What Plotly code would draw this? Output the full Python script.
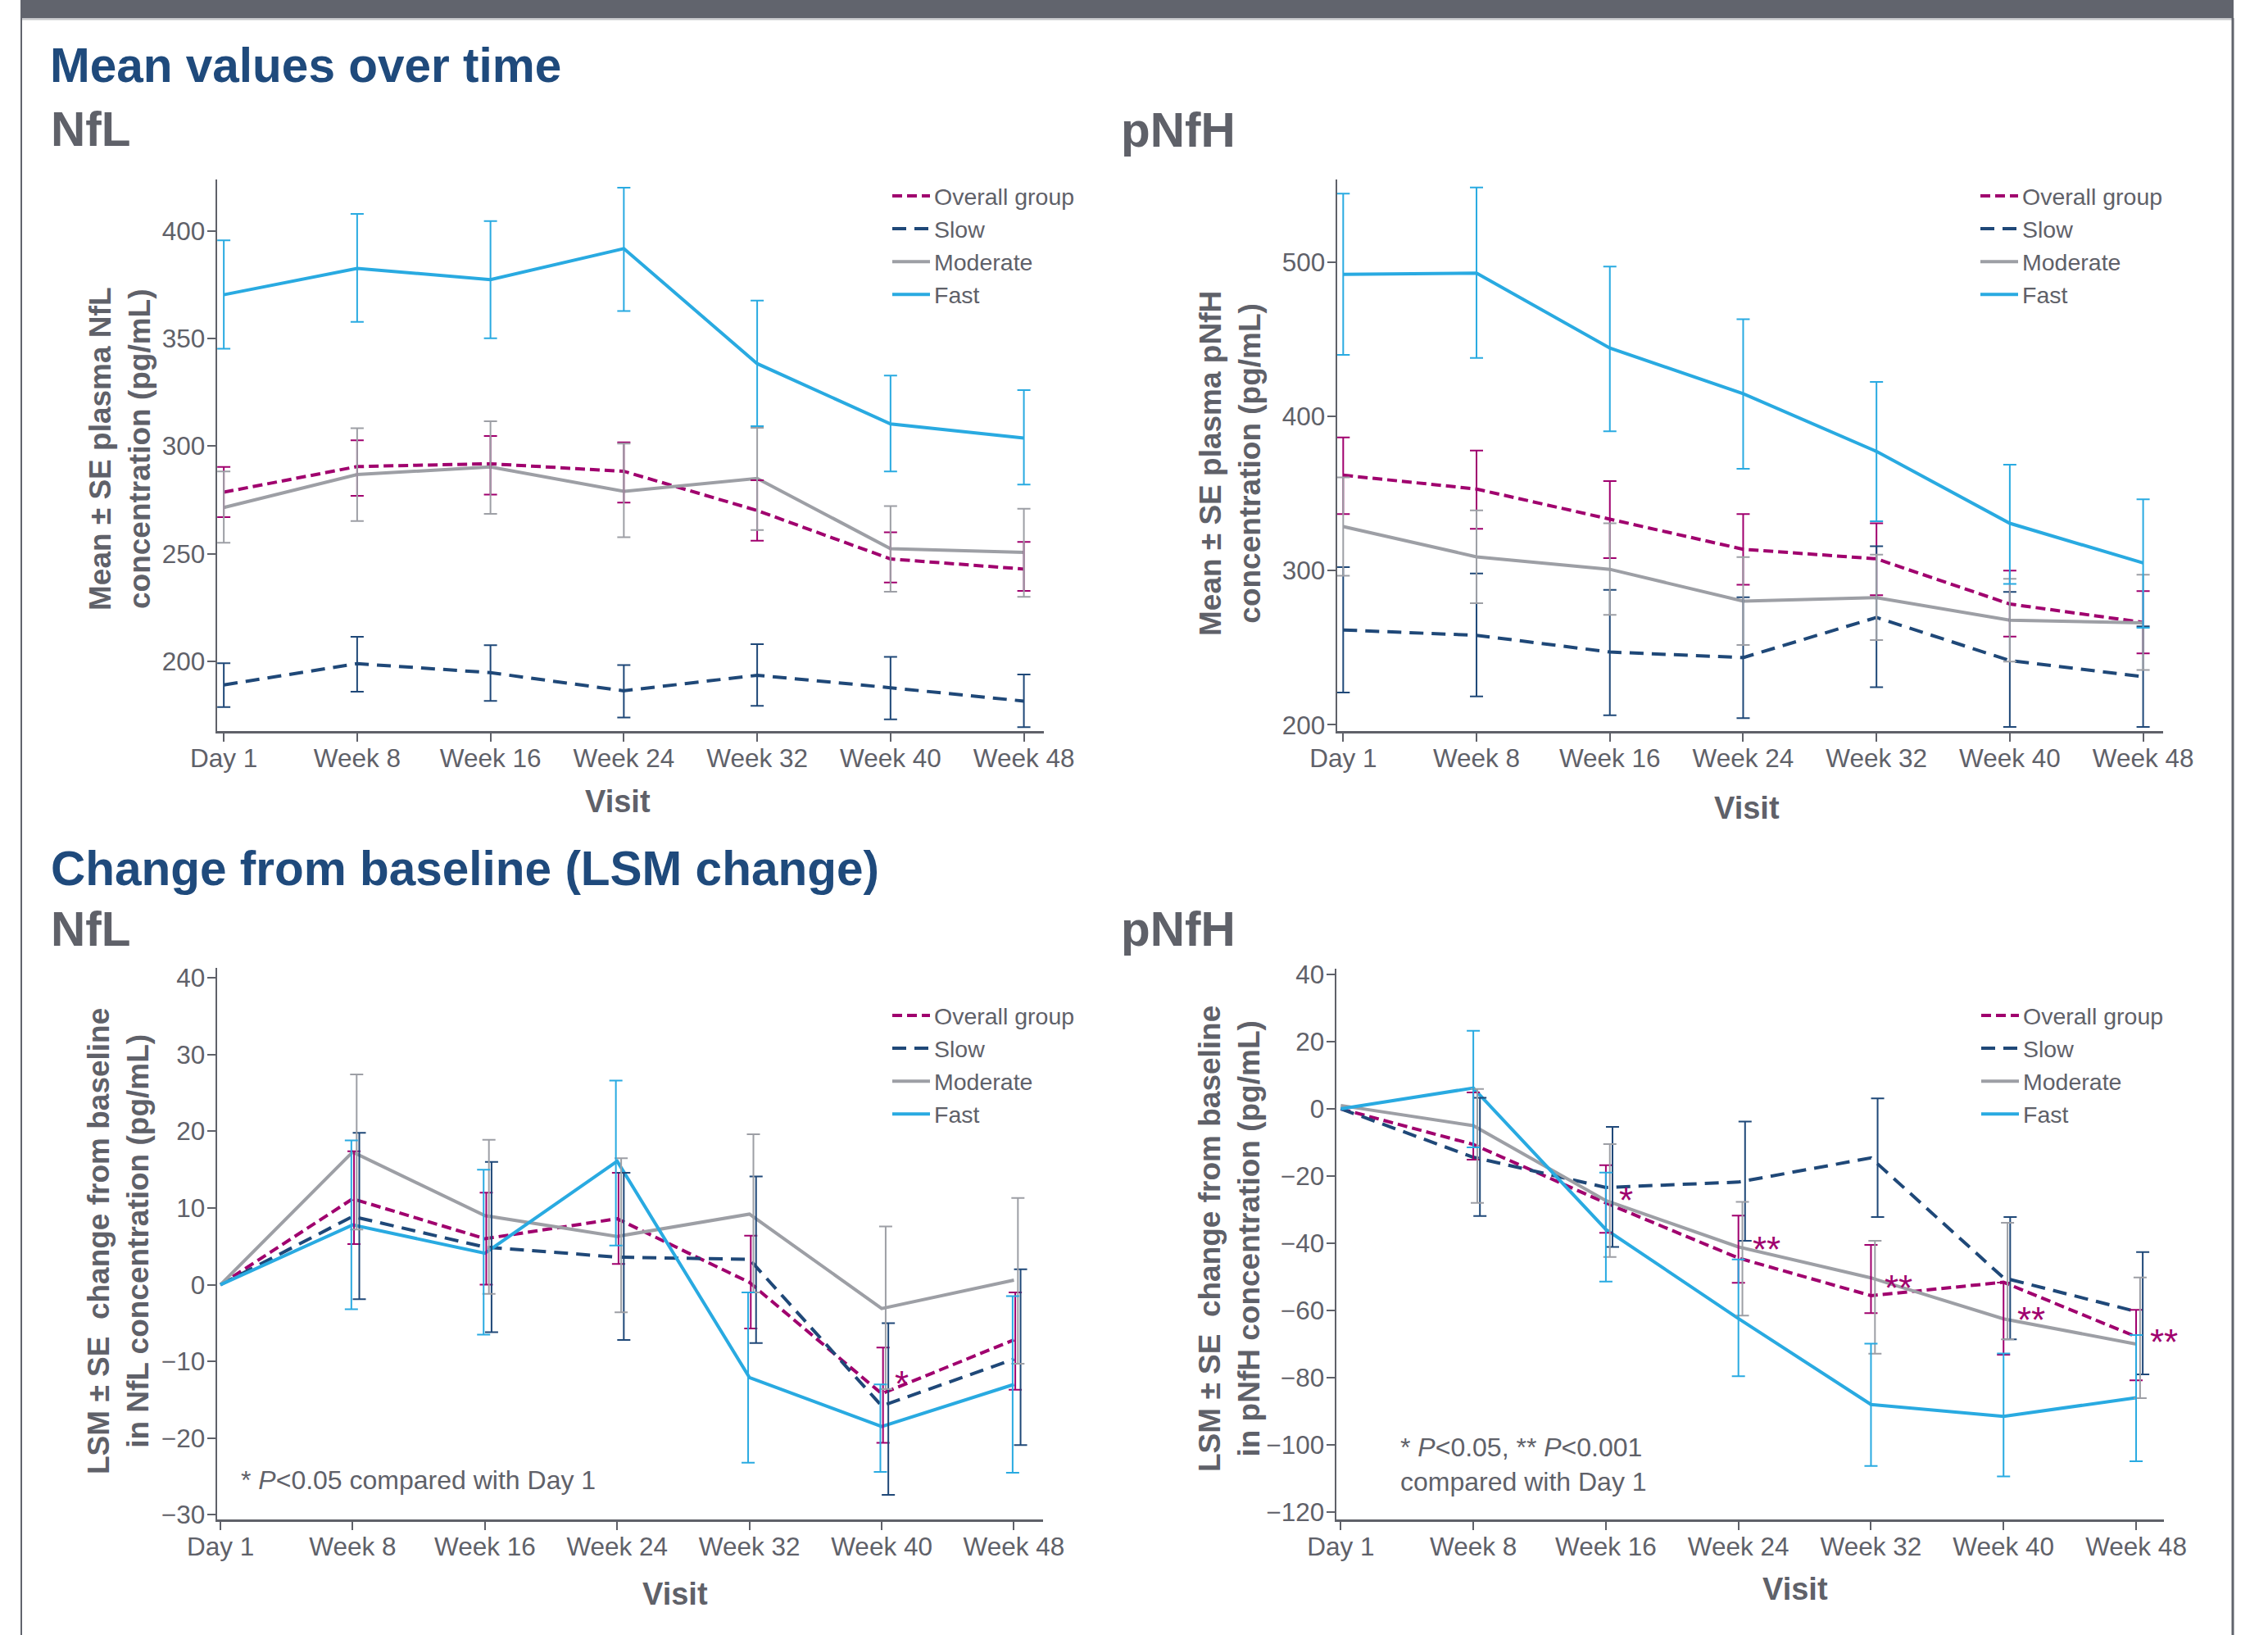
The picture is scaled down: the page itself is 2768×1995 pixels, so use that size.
import plotly.graph_objects as go

W, H = 2768, 1995
N = None

visits = ["Day 1", "Week 8", "Week 16", "Week 24", "Week 32", "Week 40", "Week 48"]
groups = ["Overall group", "Slow", "Moderate", "Fast"]

# ---- Panel A: NfL mean values (pg/mL) ----
nfl_mean_overall = [278.6, 290.5, 291.8, 288.3, 270.1, 247.6, 242.9]
nfl_mean_overall_lo = [267.0, 276.9, 277.5, 273.8, 256.1, 236.7, 232.8]
nfl_mean_overall_hi = [290.3, 302.7, 304.7, 301.7, 284.1, 260.0, 255.5]
nfl_mean_slow = [189.1, 199.0, 194.8, 186.4, 193.6, 187.8, 181.6]
nfl_mean_slow_lo = [178.8, 186.0, 181.7, 174.0, 179.4, 173.1, 169.5]
nfl_mean_slow_hi = [199.2, 211.5, 207.6, 198.3, 208.0, 202.1, 194.0]
nfl_mean_moderate = [271.5, 286.8, 290.3, 279.0, 285.0, 252.4, 250.7]
nfl_mean_moderate_lo = [255.1, 265.2, 268.5, 257.7, 261.0, 232.4, 230.0]
nfl_mean_moderate_hi = [288.2, 308.3, 311.5, 301.2, 308.5, 272.2, 270.9]
nfl_mean_fast = [370.3, 382.5, 377.3, 391.7, 338.3, 310.3, 303.7]
nfl_mean_fast_lo = [345.2, 357.7, 350.1, 362.7, 309.3, 288.2, 282.1]
nfl_mean_fast_hi = [395.5, 407.8, 404.5, 420.0, 367.6, 332.8, 326.0]

# ---- Panel B: pNfH mean values (pg/mL) ----
pnfh_mean_overall = [361.8, 352.8, 333.3, 313.8, 307.6, 278.3, 266.4]
pnfh_mean_overall_lo = [336.6, 327.1, 308.1, 290.8, 284.0, 257.2, 246.3]
pnfh_mean_overall_hi = [386.2, 377.8, 358.0, 336.6, 330.6, 300.0, 286.7]
pnfh_mean_slow = [261.5, 258.0, 247.2, 243.6, 269.6, 241.7, 231.2]
pnfh_mean_slow_lo = [220.9, 218.4, 206.2, 204.3, 224.4, 198.6, 198.6]
pnfh_mean_slow_hi = [302.2, 298.1, 287.5, 282.7, 315.7, 286.2, 263.8]
pnfh_mean_moderate = [328.5, 308.9, 300.8, 280.2, 282.4, 267.8, 266.1]
pnfh_mean_moderate_lo = [296.7, 278.9, 271.3, 251.8, 255.0, 241.0, 235.5]
pnfh_mean_moderate_hi = [360.3, 339.0, 330.6, 308.7, 310.3, 294.6, 297.3]
pnfh_mean_fast = [491.9, 492.7, 444.2, 414.6, 377.2, 330.6, 304.9]
pnfh_mean_fast_lo = [439.8, 437.7, 390.2, 365.9, 332.0, 291.3, 262.9]
pnfh_mean_fast_hi = [544.2, 548.2, 497.0, 462.9, 422.2, 368.6, 346.1]

# ---- Panel C: NfL LSM change from baseline (pg/mL) ----
nfl_chg_overall = [0, 11.2, 6.0, 8.6, 0.3, -14.2, -7.2]
nfl_chg_overall_lo = [N, 5.3, 0.0, 2.7, -5.7, -20.6, -13.7]
nfl_chg_overall_hi = [N, 17.4, 12.0, 14.6, 6.4, -8.2, -1.0]
nfl_chg_slow = [0, 8.9, 4.9, 3.6, 3.3, -15.8, -9.7]
nfl_chg_slow_lo = [N, -1.9, -6.2, -7.2, -7.6, -27.4, -20.9]
nfl_chg_slow_hi = [N, 19.8, 16.0, 14.6, 14.1, -5.0, 2.0]
nfl_chg_moderate = [0, 17.3, 9.0, 6.3, 9.2, -3.1, 0.6]
nfl_chg_moderate_lo = [N, 7.2, -1.2, -3.6, -1.0, -13.6, -10.3]
nfl_chg_moderate_hi = [N, 27.4, 18.9, 16.5, 19.6, 7.6, 11.3]
nfl_chg_fast = [0, 7.8, 4.1, 16.1, -12.1, -18.5, -13.0]
nfl_chg_fast_lo = [N, -3.2, -6.5, 5.1, -23.2, -24.4, -24.5]
nfl_chg_fast_hi = [N, 18.8, 15.0, 26.6, -1.0, -13.0, -1.5]

# ---- Panel D: pNfH LSM change from baseline (pg/mL) ----
pnfh_chg_overall = [0, -10.6, -28.0, -44.4, -55.6, -51.6, -67.8]
pnfh_chg_overall_lo = [N, -15.1, -36.9, -51.8, -60.8, -73.2, -80.8]
pnfh_chg_overall_hi = [N, 4.9, -16.8, -31.8, -40.5, -51.7, -59.8]
pnfh_chg_slow = [0, -14.4, -23.4, -21.8, -14.6, -50.3, -60.3]
pnfh_chg_slow_lo = [N, -31.9, -41.1, -39.3, -32.2, -68.6, -79.0]
pnfh_chg_slow_hi = [N, 3.3, -5.4, -3.8, 3.1, -32.2, -42.6]
pnfh_chg_moderate = [1.0, -5.0, -27.3, -41.1, -50.3, -62.5, -70.0]
pnfh_chg_moderate_lo = [N, -28.0, -44.1, -61.5, -72.9, -68.6, -86.1]
pnfh_chg_moderate_hi = [N, 5.9, -10.5, -27.7, -39.3, -33.9, -50.2]
pnfh_chg_fast = [0, 6.2, -35.9, -62.4, -88.0, -91.5, -86.0]
pnfh_chg_fast_lo = [N, -11.5, -51.4, -79.6, -106.3, -109.4, -104.9]
pnfh_chg_fast_hi = [N, 23.2, -19.0, -44.8, -69.9, -72.8, -67.3]

# significance markers (visit index, value, label)
nfl_sig = [(5, -12.4, "*")]
pnfh_sig = [(2, -26.0, "*"), (3, -40.5, "**"), (4, -52.0, "**"), (5, -61.7, "**"), (6, -68.1, "**")]

# ---------------- styling ----------------
FONT = "Liberation Sans, Arial, sans-serif"
GREY = "#5f6169"
BLUE = "#1f4a7c"
colors = {"Overall group": "#a0006e", "Slow": "#1f4878", "Moderate": "#9d9fa5", "Fast": "#29aae1"}
dashes = {"Overall group": "12px,6px", "Slow": "17px,10px", "Moderate": "solid", "Fast": "solid"}


def px_x(p):
    return p / W


def px_y(p):
    return 1 - p / H


panels = [
    dict(n="", series=[(nfl_mean_overall, nfl_mean_overall_lo, nfl_mean_overall_hi),
                        (nfl_mean_slow, nfl_mean_slow_lo, nfl_mean_slow_hi),
                        (nfl_mean_moderate, nfl_mean_moderate_lo, nfl_mean_moderate_hi),
                        (nfl_mean_fast, nfl_mean_fast_lo, nfl_mean_fast_hi)],
         xd=(265, 1274), yd=(219, 892), xr=[-0.05, 6.15], yr=[167.7, 423.8],
         ticks=[200, 250, 300, 350, 400], dodge=[0, 0, 0, 0], leg=(1084, 214),
         ytitle="Mean ± SE plasma NfL<br>concentration (pg/mL)", yt=(146, 548), vt=(754, 978)),
    dict(n="2", series=[(pnfh_mean_overall, pnfh_mean_overall_lo, pnfh_mean_overall_hi),
                         (pnfh_mean_slow, pnfh_mean_slow_lo, pnfh_mean_slow_hi),
                         (pnfh_mean_moderate, pnfh_mean_moderate_lo, pnfh_mean_moderate_hi),
                         (pnfh_mean_fast, pnfh_mean_fast_lo, pnfh_mean_fast_hi)],
         xd=(1632, 2640), yd=(219, 892), xr=[-0.045, 6.15], yr=[196.0, 553.4],
         ticks=[200, 300, 400, 500], dodge=[0, 0, 0, 0], leg=(2412, 214),
         ytitle="Mean ± SE plasma pNfH<br>concentration (pg/mL)", yt=(1502, 566), vt=(2132, 986)),
    dict(n="3", series=[(nfl_chg_overall, nfl_chg_overall_lo, nfl_chg_overall_hi),
                         (nfl_chg_slow, nfl_chg_slow_lo, nfl_chg_slow_hi),
                         (nfl_chg_moderate, nfl_chg_moderate_lo, nfl_chg_moderate_hi),
                         (nfl_chg_fast, nfl_chg_fast_lo, nfl_chg_fast_hi)],
         xd=(265, 1273), yd=(1181, 1854), xr=[-0.025, 6.22], yr=[-30.6, 41.3],
         ticks=[-30, -20, -10, 0, 10, 20, 30, 40], dodge=[0.01, 0.05, 0.03, -0.01], leg=(1084, 1214),
         ytitle="LSM ± SE\u00a0 change from baseline<br>in NfL concentration (pg/mL)", yt=(144, 1515), vt=(824, 1945),
         sig=nfl_sig),
    dict(n="4", series=[(pnfh_chg_overall, pnfh_chg_overall_lo, pnfh_chg_overall_hi),
                         (pnfh_chg_slow, pnfh_chg_slow_lo, pnfh_chg_slow_hi),
                         (pnfh_chg_moderate, pnfh_chg_moderate_lo, pnfh_chg_moderate_hi),
                         (pnfh_chg_fast, pnfh_chg_fast_lo, pnfh_chg_fast_hi)],
         xd=(1631, 2641), yd=(1182, 1854), xr=[-0.033, 6.21], yr=[-122.2, 41.7],
         ticks=[-120, -100, -80, -60, -40, -20, 0, 20, 40], dodge=[0, 0.05, 0.03, 0], leg=(2413, 1214),
         ytitle="LSM ± SE\u00a0 change from baseline<br>in pNfH concentration (pg/mL)", yt=(1500, 1512), vt=(2191, 1939),
         sig=pnfh_sig),
]

fig = go.Figure()
layout = dict(autosize=True, margin=dict(l=0, r=0, t=0, b=0, autoexpand=False),
              paper_bgcolor="white", plot_bgcolor="white",
              font=dict(family=FONT, color=GREY), showlegend=True)
annotations = []

xs = list(range(len(visits)))
for p in panels:
    n = p["n"]
    xa, ya = "x" + n, "y" + n
    legname = "legend" + n
    for g, (vals, lo, hi) in zip(groups, p["series"]):
        fig.add_trace(go.Scatter(x=xs, y=vals, mode="lines", name=g, xaxis=xa, yaxis=ya,
                                 legend=legname,
                                 line=dict(color=colors[g], width=4, dash=dashes[g]),
                                 hoverinfo="skip"))
    for gi, (g, (vals, lo, hi)) in enumerate(zip(groups, p["series"])):
        mid = [None if a is None else (a + b) / 2 for a, b in zip(lo, hi)]
        half = [None if a is None else (b - a) / 2 for a, b in zip(lo, hi)]
        fig.add_trace(go.Scatter(x=[i + p["dodge"][gi] for i in xs], y=mid, mode="markers",
                                 xaxis=xa, yaxis=ya, showlegend=False, legend=legname,
                                 marker=dict(size=2, opacity=0, color=colors[g]),
                                 error_y=dict(type="data", symmetric=True, array=half,
                                              color=colors[g], thickness=2, width=8),
                                 hoverinfo="skip"))
    axis_common = dict(showline=True, linecolor=GREY, linewidth=2.5, ticks="outside",
                       ticklen=10, tickwidth=2, tickcolor=GREY, showgrid=False, zeroline=False,
                       tickfont=dict(family=FONT, size=31.5, color=GREY), fixedrange=True)
    layout["xaxis" + n] = dict(axis_common, domain=[px_x(p["xd"][0]), px_x(p["xd"][1])],
                               range=p["xr"], tickmode="array", tickvals=xs, ticktext=visits,
                               anchor=ya, ticklabelstandoff=-6)
    layout["yaxis" + n] = dict(axis_common, domain=[px_y(p["yd"][1]), px_y(p["yd"][0])],
                               range=p["yr"], tickmode="array", tickvals=p["ticks"],
                               anchor=xa, ticklabelstandoff=-4)
    layout[legname] = dict(x=px_x(p["leg"][0]), y=px_y(p["leg"][1]), xanchor="left", yanchor="top",
                           xref="paper", yref="paper",
                           font=dict(family=FONT, size=28.5, color=GREY), bgcolor="rgba(0,0,0,0)",
                           itemwidth=46, tracegroupgap=0, traceorder="normal")
    annotations.append(dict(text="<b>" + p["ytitle"] + "</b>", textangle=-90, xref="paper", yref="paper",
                            x=px_x(p["yt"][0]), y=px_y(p["yt"][1]), xanchor="center", yanchor="middle",
                            showarrow=False, font=dict(family=FONT, size=37, color=GREY)))
    annotations.append(dict(text="<b>Visit</b>", xref="paper", yref="paper",
                            x=px_x(p["vt"][0]), y=px_y(p["vt"][1]), xanchor="center", yanchor="middle",
                            showarrow=False, font=dict(family=FONT, size=38, color=GREY)))
    for (vi, val, lab) in p.get("sig", []):
        off = 0.15 if lab == "*" else 0.21
        annotations.append(dict(text=lab, xref=xa, yref=ya, x=vi + off, y=val,
                                xanchor="center", yanchor="middle", yshift=-5, showarrow=False,
                                font=dict(family=FONT, size=44, color=colors["Overall group"])))

for txt, x, yb, col in [("Mean values over time", 59, 102, BLUE), ("NfL", 60, 180, GREY),
                        ("pNfH", 1366, 181, GREY),
                        ("Change from baseline (LSM change)", 60, 1082, BLUE),
                        ("NfL", 60, 1156, GREY), ("pNfH", 1366, 1156, GREY)]:
    annotations.append(dict(text="<b>" + txt + "</b>", xref="paper", yref="paper",
                            x=px_x(x), y=px_y(yb + 12), xanchor="left", yanchor="bottom",
                            showarrow=False, font=dict(family=FONT, size=58.5, color=col)))

annotations.append(dict(text="* <i>P</i>&lt;0.05 compared with Day 1", xref="paper", yref="paper",
                        x=px_x(292), y=px_y(1806), xanchor="left", yanchor="middle", align="left",
                        showarrow=False, font=dict(family=FONT, size=32, color=GREY)))
annotations.append(dict(text="* <i>P</i>&lt;0.05, ** <i>P</i>&lt;0.001<br>compared with Day 1",
                        xref="paper", yref="paper",
                        x=px_x(1707), y=px_y(1787), xanchor="left", yanchor="middle", align="left",
                        showarrow=False, font=dict(family=FONT, size=32, color=GREY)))

layout["annotations"] = annotations

frame = "#61646d"
layout["shapes"] = [
    dict(type="rect", xref="paper", yref="paper", x0=px_x(25), x1=px_x(2726), y0=px_y(22), y1=px_y(0),
         fillcolor=frame, line=dict(width=0), layer="above"),
    dict(type="rect", xref="paper", yref="paper", x0=px_x(25), x1=px_x(2726), y0=px_y(24.5), y1=px_y(22),
         fillcolor="#c6c7ca", line=dict(width=0), layer="above"),
    dict(type="line", xref="paper", yref="paper", x0=px_x(26), x1=px_x(26), y0=px_y(22), y1=0,
         line=dict(color=frame, width=2)),
    dict(type="line", xref="paper", yref="paper", x0=px_x(2725), x1=px_x(2725), y0=px_y(22), y1=0,
         line=dict(color=frame, width=3)),
]

fig.update_layout(**layout)
fig.write_html("out.html", config={"staticPlot": True, "responsive": True},
               default_width="100vw", default_height="100vh",
               post_script="document.documentElement.style.margin='0';document.body.style.margin='0';"
                           "document.body.style.overflow='hidden';"
                           "Plotly.Plots.resize(document.getElementById('{plot_id}'));")
